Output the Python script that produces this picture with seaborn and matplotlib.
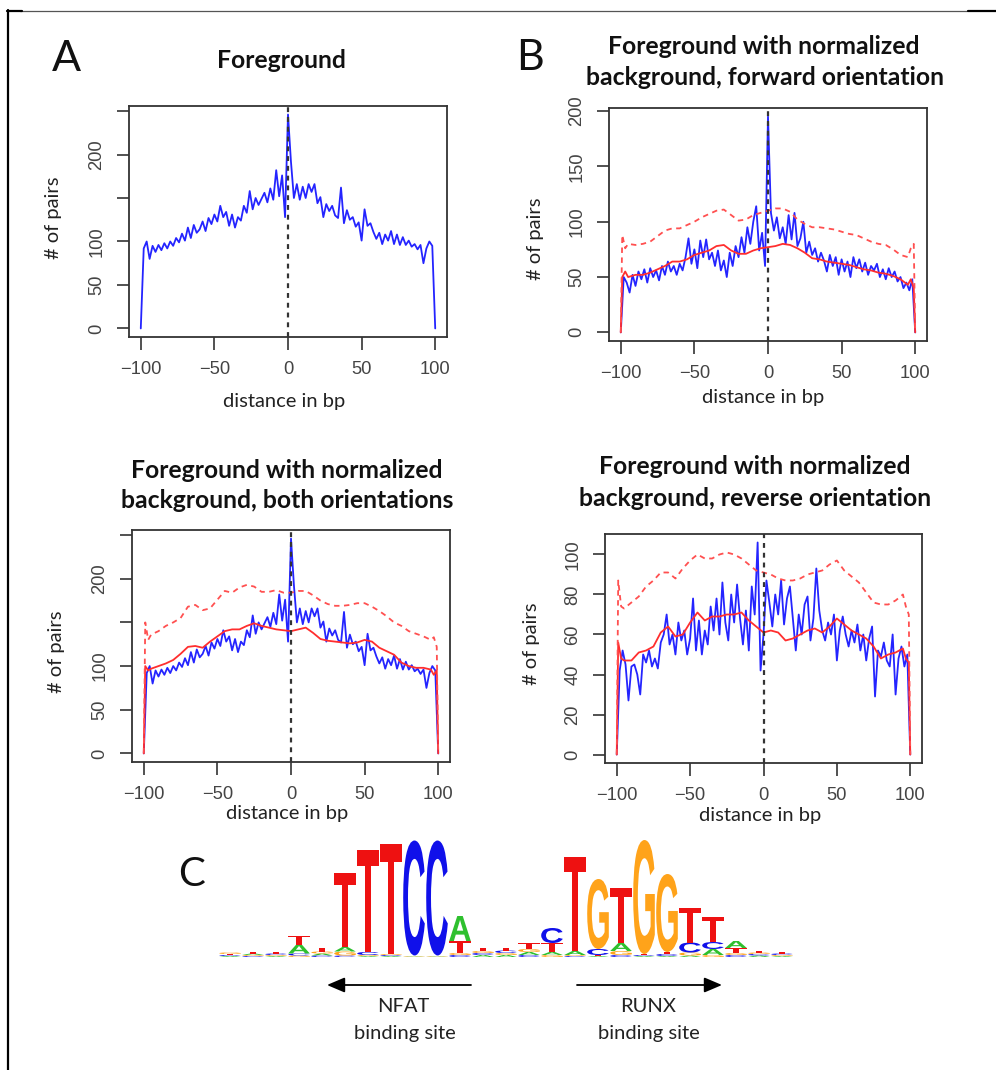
import numpy as np
import matplotlib
matplotlib.use("Agg")
import matplotlib.pyplot as plt
import matplotlib.transforms as mtransforms
from matplotlib.textpath import TextPath
from matplotlib.patches import PathPatch
from matplotlib.font_manager import FontProperties
import seaborn as sns

# positions in bp
x_fg = np.arange(-100, 101, 2)
x_bg = np.array([-100, -99, -97] + list(range(-95, 96, 5)) + [97, 99, 100])

# foreground, both orientations (panel A and lower left)
fg_both = [0, 92, 100, 80, 95, 88, 96, 90, 98, 92,
           100, 95, 104, 99, 109, 101, 116, 104, 119, 110,
           114, 123, 112, 127, 120, 131, 123, 141, 128, 134,
           118, 131, 116, 128, 124, 141, 133, 158, 137, 150,
           142, 149, 156, 145, 161, 148, 182, 152, 176, 128,
           246,
           192, 150, 166, 148, 163, 150, 166, 157, 166, 144,
           151, 128, 143, 135, 141, 130, 127, 162, 121, 136,
           125, 128, 117, 122, 101, 137, 118, 121, 111, 103,
           110, 97, 108, 101, 112, 97, 108, 96, 105, 96,
           101, 94, 97, 91, 96, 75, 92, 100, 95, 0]

# foreground, forward orientation
fg_fwd = [0, 50, 45, 36, 52, 42, 55, 48, 57, 45,
          58, 50, 56, 47, 60, 52, 64, 55, 60, 52,
          62, 56, 68, 85, 62, 75, 58, 83, 68, 84,
          66, 72, 60, 74, 56, 65, 50, 72, 60, 78,
          68, 86, 72, 95, 80, 100, 114, 74, 90, 60,
          195,
          108, 92, 104, 85, 95, 80, 106, 84, 108, 78,
          85, 100, 72, 82, 70, 76, 64, 72, 65, 55,
          70, 60, 68, 52, 66, 55, 64, 50, 68, 58,
          66, 55, 63, 52, 60, 56, 62, 50, 57, 48,
          58, 50, 55, 46, 50, 40, 45, 38, 48, 0]

# foreground, reverse orientation
fg_rev = [0, 42, 52, 45, 27, 44, 45, 40, 30, 50,
          46, 52, 44, 48, 43, 56, 60, 70, 55, 60,
          50, 66, 57, 62, 50, 58, 78, 52, 67, 50,
          62, 55, 74, 62, 78, 60, 86, 66, 57, 80,
          66, 85, 68, 55, 72, 52, 84, 70, 106, 42,
          60,
          87, 76, 64, 80, 70, 87, 65, 78, 84, 68,
          52, 70, 60, 75, 79, 57, 68, 93, 72, 62,
          57, 66, 60, 70, 47, 62, 69, 60, 54, 62,
          56, 65, 52, 60, 47, 58, 64, 29, 52, 49,
          56, 47, 44, 60, 30, 48, 54, 44, 50, 0]

# normalized background (solid) and its upper band (dashed)
bg_fwd = [0, 50, 55, 50, 52, 52, 54, 57, 60, 64, 64, 66, 70, 72, 74, 78, 79, 74, 71, 71, 74, 76, 77,
          78, 80, 79, 76, 72, 67, 66, 64, 63, 62, 61, 59, 57, 56, 54, 53, 51, 48, 43, 48, 40, 0]
bgu_fwd = [0, 88, 76, 80, 79, 80, 82, 87, 92, 94, 94, 97, 100, 104, 107, 110, 111, 106, 101, 102, 106, 108, 110,
           112, 112, 109, 102, 98, 95, 95, 94, 93, 91, 89, 88, 85, 82, 80, 79, 75, 70, 68, 76, 80, 0]
bg_both = [0, 100, 95, 97, 100, 103, 107, 114, 122, 123, 121, 128, 134, 140, 142, 142, 146, 149, 146, 144, 142, 141, 140,
           142, 144, 138, 131, 129, 128, 127, 126, 127, 130, 128, 121, 117, 113, 104, 100, 98, 98, 96, 90, 95, 0]
bgu_both = [0, 150, 130, 136, 140, 146, 150, 155, 168, 170, 164, 166, 176, 186, 184, 190, 193, 191, 185, 185, 187, 184, 184,
            186, 186, 181, 175, 171, 169, 169, 170, 172, 172, 168, 163, 157, 150, 146, 140, 137, 134, 130, 133, 122, 0]
bg_rev = [0, 56, 48, 47, 47, 51, 52, 54, 61, 64, 59, 60, 66, 71, 67, 69, 69, 70, 70, 71, 67, 64, 61,
          62, 61, 57, 58, 60, 62, 63, 61, 64, 68, 65, 62, 60, 58, 54, 48, 50, 51, 53, 48, 46, 0]
bgu_rev = [0, 87, 74, 73, 76, 79, 84, 87, 91, 91, 88, 93, 97, 100, 98, 98, 100, 101, 100, 98, 95, 92, 91,
           90, 88, 87, 87, 88, 90, 91, 92, 95, 97, 92, 89, 86, 81, 76, 75, 75, 77, 80, 74, 70, 0]

# sequence logo letter heights per position (pixels)
logo_A = [1, 1.5, 1, 9, 2, 4.5, 1, 1, 0.5, 0.5, 25, 2, 2, 3, 3, 4, 1, 8, 1, 1, 1.5, 6, 7, 1.5, 1]
logo_C = [1, 1, 1.5, 2, 1.5, 1.5, 3, 1, 115, 115, 2, 2, 2.5, 2, 15, 1, 6, 2, 1, 2, 10, 7, 2, 1.5, 1.5]
logo_G = [1.5, 1, 1, 1.5, 2, 4, 1, 1, 0.5, 0.5, 2, 2, 2, 3, 2, 1, 70, 4, 114, 78, 3, 2, 2, 1.5, 1]
logo_T = [1, 2, 1.5, 9, 4, 74, 102, 110, 0.5, 0.5, 12, 3, 3, 6, 9, 94, 1, 55, 1, 2, 35, 25, 5, 2, 1.5]
logo_colors = {"A": "#2ec02e", "C": "#1010ea", "G": "#ffa31a", "T": "#ee1111"}

BLUE = "#2424ff"
RED = "#ff2e2e"

sns.set_style("white")
plt.rcParams["font.family"] = ["Lato", "DejaVu Sans"]

W, H = 996, 1070
fig = plt.figure(figsize=(W / 100, H / 100), dpi=100)


def px_axes(left, top, right, bottom):
    return fig.add_axes([left / W, 1 - bottom / H, (right - left) / W, (bottom - top) / H])


# overlay in pixel coordinates for frame, titles and labels
bg = fig.add_axes([0, 0, 1, 1])
bg.set_xlim(0, W)
bg.set_ylim(H, 0)
bg.axis("off")

bg.plot([20, 967], [10.5, 10.5], color="#555555", lw=0.9)
bg.plot([6.5, 22], [10.5, 10.5], color="black", lw=1.6)
bg.plot([8, 8], [9.5, 1070], color="black", lw=1.6)
bg.plot([968, 996], [10.5, 10.5], color="black", lw=1.6)


def panel(box, ylim, yticks, ylabels, fg, bgs=None, bgu=None):
    ax = px_axes(*box)
    sns.lineplot(x=x_fg, y=fg, ax=ax, color=BLUE, lw=1.3)
    if bgs is not None:
        sns.lineplot(x=x_bg, y=bgs, ax=ax, color=RED, lw=1.3)
        sns.lineplot(x=x_bg, y=bgu, ax=ax, color="#ff5050", lw=1.3, linestyle=(0, (3, 2.5)))
    ax.axvline(0, color="#333333", lw=1.6, linestyle=(0, (2.2, 2.2)), zorder=5)
    ax.set_xlim(-108, 108)
    ax.set_ylim(*ylim)
    ax.set_xticks([-100, -50, 0, 50, 100])
    ax.set_xticklabels(["\u2212100", "\u221250", "0", "50", "100"])
    ax.set_yticks(yticks)
    ax.set_yticklabels(ylabels, rotation=90, va="center")
    ax.set_xlabel("")
    ax.set_ylabel("")
    ax.tick_params(bottom=True, left=True, direction="out", length=9, width=1.2,
                   color="#333333", labelcolor="#444444", labelsize=13.2, pad=8)
    for t in ax.get_xticklabels() + ax.get_yticklabels():
        t.set_fontfamily("Liberation Sans")
    for s in ax.spines.values():
        s.set_color("#333333")
        s.set_linewidth(1.3)
    return ax


ticks_big = [0, 50, 100, 150, 200, 250]
labels_big = ["0", "50", "100", "", "200", ""]

panel((129, 106, 447, 337), (-9.84, 255.8), ticks_big, labels_big, fg_both)
panel((609, 108, 927, 341), (-7.8, 202.8), [0, 50, 100, 150, 200],
      ["0", "50", "100", "150", "200"], fg_fwd, bg_fwd, bgu_fwd)
panel((132, 530, 450, 762), (-9.84, 255.8), ticks_big, labels_big, fg_both, bg_both, bgu_both)
panel((605, 534, 922, 763), (-4.24, 110.24), [0, 20, 40, 60, 80, 100],
      ["0", "20", "40", "60", "80", "100"], fg_rev, bg_rev, bgu_rev)

# titles
title_kw = dict(fontsize=17.8, fontweight="bold", ha="center", va="center", color="#111111")
bg.text(281, 61, "Foreground", **title_kw)
bg.text(764, 46, "Foreground with normalized", **title_kw)
bg.text(765, 77.5, "background, forward orientation", **title_kw)
bg.text(287, 470, "Foreground with normalized", **title_kw)
bg.text(287, 501, "background, both orientations", **title_kw)
bg.text(755, 467, "Foreground with normalized", **title_kw)
bg.text(755, 498, "background, reverse orientation", **title_kw)

# axis labels
lab_kw = dict(fontsize=14.5, ha="center", va="center", color="#222222")
for (xx, yy) in [(284, 401), (763, 397), (287, 813), (760, 816)]:
    bg.text(xx, yy, "distance in bp", **lab_kw)
for (xx, yy) in [(53.5, 218), (535, 239), (56.5, 652), (532, 644)]:
    bg.text(xx, yy, "# of pairs", rotation=90, **lab_kw)

# panel letters
bg.text(66, 59, "A", fontsize=31, ha="center", va="center", color="#111111")
bg.text(530, 58, "B", fontsize=31, ha="center", va="center", color="#111111")
bg.text(192, 875, "C", fontsize=29, ha="center", va="center", color="#111111")

# sequence logo
lax = px_axes(218.5, 837, 793.5, 957)
lax.set_xlim(-0.5, len(logo_T) - 0.5)
lax.set_ylim(0, 120)
lax.axis("off")
fp = FontProperties(family="Liberation Sans", weight="bold")


def draw_letter(ax, ch, xc, y0, w, h, color):
    tp = TextPath((0, 0), ch, size=1, prop=fp)
    bb = tp.get_extents()
    tr = (mtransforms.Affine2D().translate(-bb.x0, -bb.y0)
          .scale(w / bb.width, h / bb.height).translate(xc - w / 2, y0))
    ax.add_patch(PathPatch(tr.transform_path(tp), fc=color, ec="none", lw=0))


for i in range(len(logo_T)):
    stack = sorted(zip([logo_A[i], logo_C[i], logo_G[i], logo_T[i]], "ACGT"))
    y0 = 0
    for h, ch in stack:
        if h >= 0.4:
            draw_letter(lax, ch, i, y0, 0.94, h, logo_colors[ch])
        y0 += h

# binding site arrows
head = "-|>,head_length=0.4,head_width=0.17"
bg.annotate("", xy=(327, 985), xytext=(471, 985),
            arrowprops=dict(arrowstyle=head, color="black", lw=1.3, mutation_scale=27, shrinkA=0, shrinkB=0))
bg.annotate("", xy=(722, 985), xytext=(577, 985),
            arrowprops=dict(arrowstyle=head, color="black", lw=1.3, mutation_scale=27, shrinkA=0, shrinkB=0))
site_kw = dict(fontsize=14.5, ha="center", va="center", color="#222222")
bg.text(403, 1007, "NFAT", **site_kw)
bg.text(405, 1033, "binding site", **site_kw)
bg.text(648, 1007, "RUNX", **site_kw)
bg.text(649, 1033, "binding site", **site_kw)

fig.savefig("out.png", dpi=100)
